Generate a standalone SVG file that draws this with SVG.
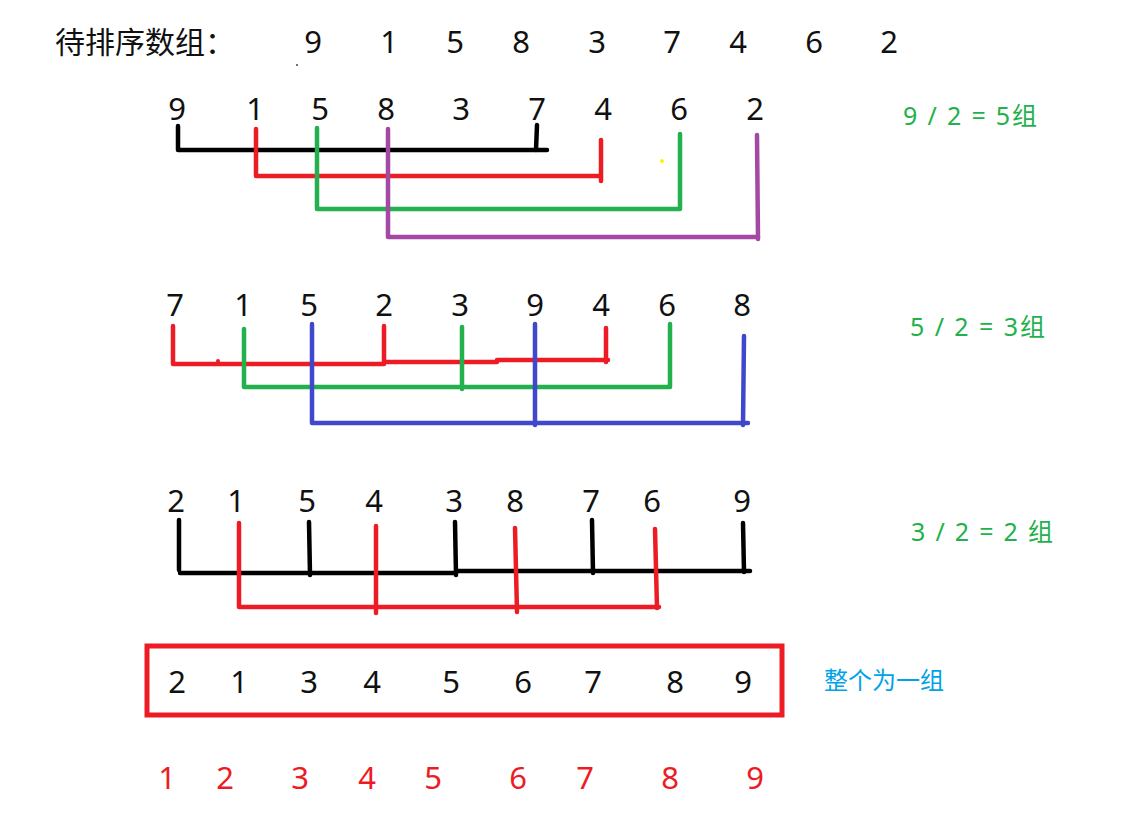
<svg xmlns="http://www.w3.org/2000/svg" width="1123" height="817" viewBox="0 0 1123 817">
<style>
text{font-family:"Noto Sans","Noto Sans CJK SC",sans-serif}
.d{font-size:31px;fill:#111;text-anchor:middle}
.rd{font-size:31px;fill:#ed1c24;text-anchor:middle}
.g{font-size:25px;fill:#22b14c}
.b{font-size:24px;fill:#00a2e8}
.t{font-size:30px;fill:#111}
.l{fill:none;stroke-width:4.5;stroke-linecap:round;stroke-linejoin:round}
.k{stroke:#000}.r{stroke:#ed1c24}.gr{stroke:#22b14c}.p{stroke:#a349a4}.bl{stroke:#3f48cc}
</style>
<rect width="1123" height="817" fill="#fff"/>
<g id="title">
<text class="t" x="55" y="53">待排序数组：</text>
<text class="d" y="53"><tspan x="313">9</tspan><tspan x="389">1</tspan><tspan x="455">5</tspan><tspan x="521">8</tspan><tspan x="597">3</tspan><tspan x="672">7</tspan><tspan x="738">4</tspan><tspan x="814">6</tspan><tspan x="889">2</tspan></text>
<circle cx="297" cy="65" r="1" fill="#444"/>
</g>
<g id="row1">
<text class="d" y="120"><tspan x="177">9</tspan><tspan x="255">1</tspan><tspan x="320">5</tspan><tspan x="386">8</tspan><tspan x="461">3</tspan><tspan x="537">7</tspan><tspan x="603">4</tspan><tspan x="679">6</tspan><tspan x="755">2</tspan></text>
<text class="g" x="903" y="125" textLength="134">9 / 2 = 5组</text>
</g>
<g id="row2">
<text class="d" y="316"><tspan x="175">7</tspan><tspan x="243">1</tspan><tspan x="309">5</tspan><tspan x="384">2</tspan><tspan x="460">3</tspan><tspan x="535">9</tspan><tspan x="601">4</tspan><tspan x="667">6</tspan><tspan x="742">8</tspan></text>
<text class="g" x="910" y="336" textLength="135">5 / 2 = 3组</text>
</g>
<g id="row3">
<text class="d" y="512"><tspan x="176">2</tspan><tspan x="236">1</tspan><tspan x="307">5</tspan><tspan x="374">4</tspan><tspan x="454">3</tspan><tspan x="515">8</tspan><tspan x="591">7</tspan><tspan x="652">6</tspan><tspan x="742">9</tspan></text>
<text class="g" x="911" y="541" textLength="142">3 / 2 = 2 组</text>
</g>
<g id="row4">
<rect x="147" y="646" width="635" height="69" fill="none" stroke="#ed1c24" stroke-width="5"/>
<text class="d" y="693"><tspan x="177">2</tspan><tspan x="239">1</tspan><tspan x="309">3</tspan><tspan x="372">4</tspan><tspan x="451">5</tspan><tspan x="523">6</tspan><tspan x="593">7</tspan><tspan x="675">8</tspan><tspan x="743">9</tspan></text>
<text class="b" x="824" y="689">整个为一组</text>
</g>
<g id="row5">
<text class="rd" y="789"><tspan x="167">1</tspan><tspan x="225">2</tspan><tspan x="300">3</tspan><tspan x="367">4</tspan><tspan x="433">5</tspan><tspan x="518">6</tspan><tspan x="585">7</tspan><tspan x="670">8</tspan><tspan x="755">9</tspan></text>
</g>
<g id="connectors">
<polyline class="l k" points="178,126 178,150 547,150"/>
<polyline class="l k" points="537,125 536,150"/>
<polyline class="l r" points="256,129 256,176 601,176"/>
<polyline class="l r" points="601,140 601,181"/>
<polyline class="l gr" points="317,128 317,209 680,209 680,134"/>
<polyline class="l p" points="388,129 388,237 758,237"/>
<polyline class="l p" points="757,135 758,239"/>
<circle cx="662" cy="161" r="2" fill="#fff200"/>

<polyline class="l r" points="173,326 173,364 384,364 384,362 497,362 497,360 608,360"/>
<polyline class="l r" points="384,326 384,363"/>
<polyline class="l r" points="606,328 606,362"/>
<circle cx="218" cy="361" r="2" fill="#ed1c24"/>
<polyline class="l gr" points="244,329 244,387 670,387 670,324"/>
<polyline class="l gr" points="462,327 462,389"/>
<polyline class="l bl" points="312,324 312,423 748,423"/>
<polyline class="l bl" points="535,324 535,425"/>
<polyline class="l bl" points="744,336 743,425"/>

<polyline class="l k" points="179,520 179,570"/>
<polyline class="l k" points="180,573 456,573 456,571 750,571"/>
<polyline class="l k" points="309,522 310,575"/>
<polyline class="l k" points="455,522 456,575"/>
<polyline class="l k" points="592,520 593,573"/>
<polyline class="l k" points="743,523 744,572"/>
<polyline class="l r" points="239,523 239,607 659,607"/>
<polyline class="l r" points="376,526 376,613"/>
<polyline class="l r" points="515,528 517,612"/>
<polyline class="l r" points="655,529 657,608"/>
</g>
</svg>
